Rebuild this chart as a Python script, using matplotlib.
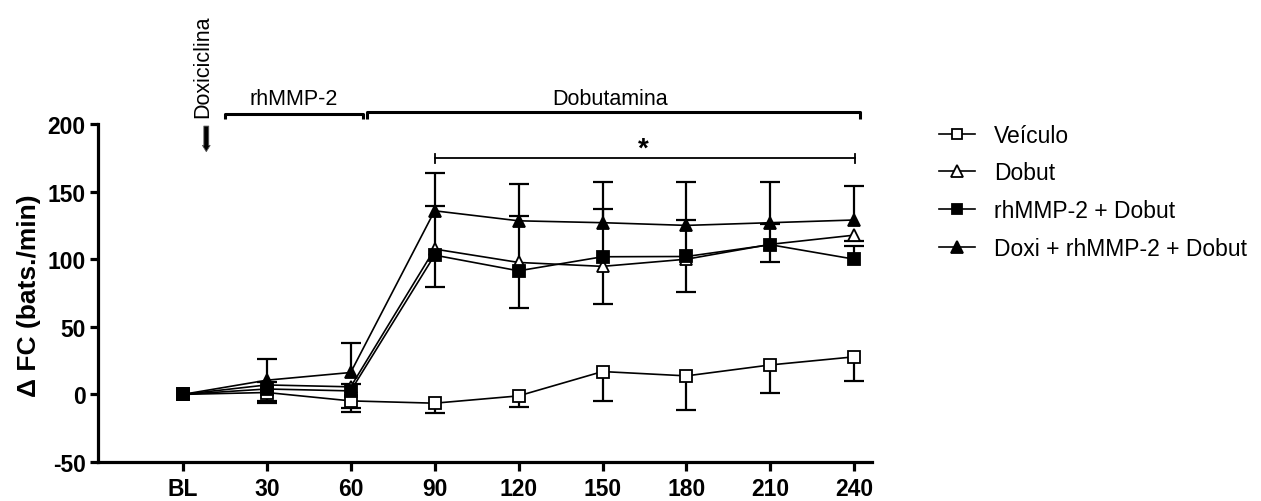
import numpy as np
import matplotlib.pyplot as plt

plt.rcParams['font.family'] = ['Liberation Sans', 'DejaVu Sans']
plt.rcParams['axes.unicode_minus'] = False

# tempos (min) e grupos
tempos = ['BL', '30', '60', '90', '120', '150', '180', '210', '240']
grupos = ['Veículo', 'Dobut', 'rhMMP-2 + Dobut', 'Doxi + rhMMP-2 + Dobut']

# delta FC médio (bats./min)
veiculo = [0, 1.4, -4.8, -6.5, -1.1, 16.9, 13.7, 21.8, 27.8]
dobut = [0, 7, 5.6, 107.5, 97.6, 94.7, 100, 111, 117.8]
rhmmp = [0, 4, 2.6, 103, 91.4, 101.8, 102, 110.7, 100]
doxi = [0, 10.5, 16.2, 135.8, 128.4, 127, 125, 127, 129]

# EPM (só um lado é desenhado em cada grupo)
veiculo_epm = [0, 8, 8, 7.6, 8, 22, 25, 21, 17.8]
dobut_epm = [0, 12, 15.6, 28, 33.6, 27.7, 24, 13, 4]
rhmmp_epm = [0, 5, 5, 36, 40.6, 35, 27, 15, 10]
doxi_epm = [0, 16, 22, 28, 27, 30, 32, 30, 25]

x = np.arange(len(tempos))

fig = plt.figure(figsize=(12.61, 5.02), dpi=100)
ax = fig.add_axes([98 / 1261, 1 - 463 / 502, 774 / 1261, 338 / 502])

series = [
    (veiculo, veiculo_epm, 's', 'white', 'down'),
    (dobut, dobut_epm, '^', 'white', 'down'),
    (rhmmp, rhmmp_epm, 's', 'black', 'up'),
    (doxi, doxi_epm, '^', 'black', 'up'),
]

handles = []
for (y, e, mk, fc, lado), nome in zip(series, grupos):
    y = np.array(y, dtype=float)
    e = np.array(e, dtype=float)
    zero = np.zeros_like(e)
    yerr = [e, zero] if lado == 'down' else [zero, e]
    _, caps, _ = ax.errorbar(x[1:], y[1:], yerr=[yerr[0][1:], yerr[1][1:]],
                             fmt='none', ecolor='black', elinewidth=1.6,
                             capsize=7.5, capthick=1.6, zorder=2)
    # esconde o cap do lado sem erro
    if lado == 'down':
        caps[1].set_visible(False)
    else:
        caps[0].set_visible(False)
    ms = 8 if mk == 's' else 9
    ln, = ax.plot(x, y, marker=mk, ms=ms, mfc=fc, mec='black', mew=1.3,
                  color='black', lw=1.2, zorder=3, label=nome)
    handles.append(ln)

ax.set_xlim(-1.01, 8.21)
ax.set_ylim(-50, 200)
ax.set_yticks([-50, 0, 50, 100, 150, 200])
ax.set_xticks(x)
ax.set_xticklabels(tempos)
for s in ['top', 'right']:
    ax.spines[s].set_visible(False)
for s in ['left', 'bottom']:
    ax.spines[s].set_linewidth(2.3)
ax.tick_params(axis='both', direction='out', width=2.3, labelsize=16.5)
ax.tick_params(axis='x', length=6.5, pad=4.5)
ax.tick_params(axis='y', length=6, pad=3)
for lab in ax.get_xticklabels() + ax.get_yticklabels():
    lab.set_fontweight('bold')

ax.set_ylabel('Δ FC (bats./min)', fontsize=19, fontweight='bold')
ax.yaxis.set_label_coords(-0.073, 0.494)

# anotações acima do gráfico
kw = dict(color='black', lw=2.2, clip_on=False, solid_capstyle='butt')
ax.plot([0.50, 0.50, 2.15, 2.15], [204, 207.4, 207.4, 204], **kw)
ax.plot([2.19, 2.19, 8.07, 8.07], [204, 208.6, 208.6, 203.5], **kw)
ax.text(1.32, 218.5, 'rhMMP-2', ha='center', va='center', fontsize=15.5)
ax.text(5.09, 219, 'Dobutamina', ha='center', va='center', fontsize=15.5)
ax.text(0.24, 205, 'Doxiciclina', rotation=90, ha='center', va='bottom',
        fontsize=15.5)
ax.annotate('', xy=(0.28, 177.5), xytext=(0.28, 200.5), annotation_clip=False,
            arrowprops=dict(arrowstyle='simple,head_width=0.55,head_length=0.45,tail_width=0.35',
                            fc='black', ec='#555555', lw=0.6))

# barra de significância
ax.plot([3, 8.01], [174.6, 174.6], color='black', lw=1.3, clip_on=False)
ax.plot([3, 3], [171, 178], color='black', lw=1.3, clip_on=False)
ax.plot([8.01, 8.01], [171, 178], color='black', lw=1.3, clip_on=False)
ax.text(5.48, 182, '*', ha='center', va='center', fontsize=20, fontweight='bold')

fig.legend(handles=handles, loc='upper left', bbox_to_anchor=(0.728, 0.793),
           frameon=False, fontsize=16.5, handlelength=1.6, handletextpad=0.8,
           labelspacing=0.65, markerscale=0.95)

fig.savefig('out.png', dpi=100)
